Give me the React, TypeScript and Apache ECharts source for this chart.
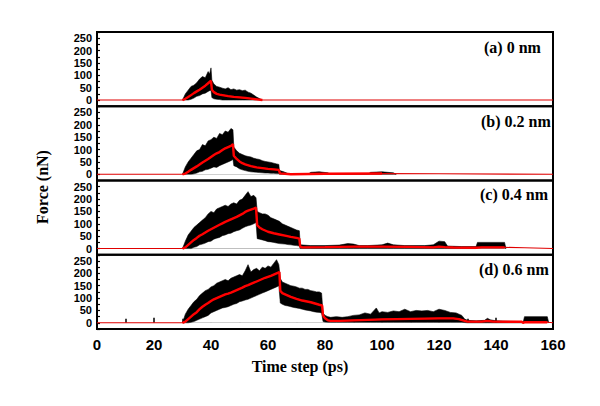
import { useEffect, useRef } from 'react';
import * as echarts from 'echarts';

// ---------- data ----------
const PANEL_LABELS = ['(a) 0 nm', '(b) 0.2 nm', '(c) 0.4 nm', '(d) 0.6 nm'];
const Y_LABELS = [0, 50, 100, 150, 200, 250];
const X_LABELS = [0, 20, 40, 60, 80, 100, 120, 140, 160];

// (a) 0 nm : black noise envelope
const T_A = [30, 31, 32, 33, 34, 35, 36, 37, 38, 39, 39.5, 40, 40.3, 41, 42, 43, 44, 45, 46, 47, 48, 49, 50, 51, 52, 53, 54, 55, 56, 57, 58];
const UP_A = [0, 25, 40, 55, 60, 70, 85, 95, 90, 115, 105, 130, 80, 65, 55, 52, 48, 45, 50, 42, 45, 40, 42, 38, 40, 32, 28, 20, 12, 6, 0];
const LO_A = [0, 0, 0, 3, 8, 15, 18, 25, 28, 35, 38, 40, 10, 5, 3, 2, 0, 0, 0, 0, 0, 0, 0, 0, 0, 0, 0, 0, 0, 0, 0];
// (a) red averaged line
const RT_A = [0, 30, 31, 32, 33, 34, 35, 36, 37, 38, 39, 40, 40.3, 41, 42, 43, 44, 46, 48, 50, 52, 54, 56, 58, 160];
const RED_A = [0, 0, 5, 12, 20, 28, 35, 42, 50, 58, 68, 78, 42, 32, 25, 22, 20, 16, 13, 11, 9, 6, 3, 0, 0];

// (b) 0.2 nm
const T_B = [30, 31, 32, 33, 34, 35, 36, 37, 38, 39, 40, 41, 42, 43, 44, 45, 46, 47, 47.7, 48, 49, 50, 51, 52, 53, 54, 55, 56, 57, 58, 59, 60, 61, 62, 63, 63.8, 64, 65, 66, 67, 68, 74, 75, 78, 81, 82, 95, 96, 100, 104, 105];
const UP_B = [0, 30, 50, 65, 80, 95, 100, 120, 115, 135, 140, 150, 145, 165, 160, 175, 170, 185, 180, 110, 95, 85, 80, 75, 72, 70, 65, 62, 60, 55, 52, 50, 48, 45, 42, 40, 15, 12, 8, 3, 0, 0, 8, 10, 6, 0, 0, 8, 10, 6, 0];
const LO_B = [0, 0, 0, 0, 2, 5, 10, 12, 18, 20, 25, 30, 28, 35, 40, 45, 50, 55, 60, 35, 30, 22, 18, 15, 12, 10, 9, 8, 7, 6, 5, 5, 4, 4, 3, 3, 0, 0, 0, 0, 0, 0, 0, 0, 0, 0, 0, 0, 0, 0, 0];
const RT_B = [0, 30, 31, 32, 33, 34, 35, 36, 37, 38, 39, 40, 41, 42, 43, 44, 45, 46, 47, 47.7, 48, 49, 50, 51, 52, 54, 56, 58, 60, 62, 63.8, 64.2, 66, 68, 80, 100, 120, 160];
const RED_B = [0, 0, 3, 10, 18, 25, 32, 40, 48, 55, 62, 70, 78, 85, 90, 98, 105, 110, 115, 122, 75, 62, 52, 45, 40, 33, 28, 25, 22, 20, 18, 4, 2, 0, 2, 3, 2, 0];

// (c) 0.4 nm
const T_C = [30, 31, 32, 33, 34, 35, 36, 37, 38, 39, 40, 41, 42, 43, 44, 45, 46, 47, 48, 49, 50, 51, 52, 53, 54, 55, 55.8, 56.2, 57, 58, 59, 60, 61, 62, 63, 64, 65, 66, 67, 68, 69, 70, 71, 71.3, 75, 80, 85, 88, 90, 92, 95, 100, 102, 104, 108, 115, 118, 120, 122, 123, 128, 133, 133.5, 143, 143.5];
const UP_C = [0, 30, 55, 70, 85, 95, 105, 115, 125, 140, 150, 145, 160, 165, 170, 175, 170, 180, 185, 180, 195, 200, 215, 230, 210, 215, 205, 150, 145, 140, 140, 135, 125, 120, 115, 110, 100, 95, 90, 85, 80, 75, 72, 15, 12, 12, 14, 20, 18, 12, 12, 15, 22, 15, 12, 12, 15, 30, 28, 10, 8, 8, 25, 25, 0];
const LO_C = [0, 0, 0, 0, 5, 8, 15, 18, 22, 28, 30, 38, 42, 45, 52, 55, 60, 62, 68, 72, 75, 82, 88, 92, 95, 100, 105, 40, 38, 35, 32, 28, 27, 25, 22, 20, 19, 18, 16, 15, 13, 12, 10, 0, 0, 0, 0, 0, 0, 0, 0, 0, 0, 0, 0, 0, 0, 0, 0, 0, 0, 0, 2, 2, 0];
const RT_C = [0, 30, 31, 32, 33, 34, 35, 36, 37, 38, 39, 40, 41, 42, 43, 44, 45, 46, 47, 48, 49, 50, 51, 52, 53, 54, 55, 55.8, 56.2, 57, 58, 60, 62, 64, 66, 68, 70, 71, 71.3, 72, 80, 90, 100, 110, 118, 120, 122, 125, 133, 135, 143, 150, 160];
const RED_C = [0, 0, 5, 15, 25, 35, 43, 52, 58, 65, 72, 78, 84, 90, 96, 102, 108, 113, 118, 123, 128, 134, 140, 148, 153, 157, 161, 165, 95, 85, 78, 68, 62, 57, 52, 47, 43, 40, 8, 5, 6, 8, 8, 7, 5, 8, 6, 4, 3, 5, 5, 3, 0];

// (d) 0.6 nm
const T_D = [30, 31, 32, 33, 34, 35, 36, 37, 38, 39, 40, 41, 42, 43, 44, 45, 46, 47, 48, 49, 50, 51, 52, 53, 54, 55, 56, 57, 58, 59, 60, 61, 62, 63, 63.8, 64.3, 65, 66, 67, 68, 69, 70, 71, 72, 73, 74, 75, 76, 77, 78, 78.8, 79.3, 80, 81, 82, 84, 86, 88, 90, 92, 94, 96, 98, 99, 100, 102, 104, 106, 108, 110, 112, 114, 116, 118, 120, 122, 124, 126, 128, 129, 130, 133, 136, 137, 138, 140, 145, 149, 149.5, 150, 158, 158.5];
const UP_D = [0, 35, 55, 70, 85, 95, 110, 120, 130, 135,
  145, 150, 160, 165, 170, 175, 170, 180, 185, 190,
  195, 190, 210, 235, 205, 215, 220, 210, 225, 220,
  230, 225, 240, 255, 235, 180,
  165, 160, 155, 150, 148, 145, 140, 140, 135, 135, 130, 128, 125, 125,
  120, 40, 30, 25, 22,
  25, 22, 25, 30, 32, 40, 35, 60, 40,
  45, 42, 48, 45, 55, 45, 50, 48, 50, 45, 55, 50, 42, 40, 30,
  15, 10, 8, 10, 18, 12, 8, 6, 5, 0, 25, 25, 0];
const LO_D = [0, 0, 0, 2, 5, 10, 15, 20, 25, 30,
  40, 45, 50, 55, 60, 62, 65, 70, 75, 78,
  85, 88, 92, 95, 100, 105, 110, 115, 120, 125,
  130, 135, 140, 145, 150, 80,
  75, 70, 68, 65, 62, 60, 58, 55, 52, 50, 48, 45, 43, 42,
  40, 5, 3, 2, 2,
  2, 2, 2, 2, 2, 2, 2, 2, 2,
  2, 2, 2, 2, 2, 2, 2, 2, 2, 2, 2, 2, 2, 2, 2,
  1, 0, 0, 0, 0, 0, 0, 0, 0, 0, 5, 5, 0];
const RT_D = [0, 30, 31, 32, 33, 34, 35, 36, 37, 38, 39, 40, 41, 42, 43, 44, 45, 46, 47, 48, 49, 50, 51, 52, 53, 54, 55, 56, 57, 58, 59, 60, 61, 62, 63, 64, 64.3, 65, 66, 68, 70, 72, 75, 78, 79, 79.3, 80, 81, 82, 85, 90, 95, 100, 105, 110, 115, 120, 125, 127, 129, 130, 135, 137, 139, 145, 149, 149.5, 150, 158, 160];
const RED_D = [0, 0, 5, 15, 25, 35, 43, 55, 65, 73, 80, 88, 95, 100, 105, 110, 115, 118, 122, 127, 132, 137, 142, 148, 152, 157, 162, 167, 172, 177, 182, 186, 190, 195, 200, 205, 130, 120, 115, 105, 97, 90, 83, 73, 70, 30, 18, 10, 8, 8, 10, 12, 14, 15, 16, 17, 18, 18, 15, 8, 5, 5, 8, 5, 4, 4, 0, 2, 2, 0];

const PANELS = [
  { t: T_A, up: UP_A, lo: LO_A, rt: RT_A, red: RED_A },
  { t: T_B, up: UP_B, lo: LO_B, rt: RT_B, red: RED_B },
  { t: T_C, up: UP_C, lo: LO_C, rt: RT_C, red: RED_C },
  { t: T_D, up: UP_D, lo: LO_D, rt: RT_D, red: RED_D },
];

const SANS = '"Liberation Sans", Arial, sans-serif';
const SERIF = '"Liberation Serif", "Times New Roman", serif';

export default function App() {
  const ref = useRef<HTMLDivElement>(null);

  useEffect(() => {
    const chart = echarts.init(ref.current!, null, { renderer: 'svg' });
    const top0 = 32;
    const h = 74.25;
    const grids: any[] = [];
    const xAxes: any[] = [];
    const yAxes: any[] = [];
    const series: any[] = [];
    const labelY = [47, 121, 194, 269];
    const labelX = [484, 481, 480, 479];
    const graphics: any[] = [];

    PANELS.forEach((p, i) => {
      const last = i === PANELS.length - 1;
      grids.push({
        left: 97, width: 456, top: top0 + i * h, height: h,
        show: true, borderColor: '#000', borderWidth: 2, backgroundColor: 'transparent',
      });
      xAxes.push({
        type: 'value', gridIndex: i, min: 0, max: 160, interval: 20,
        axisLine: { show: false },
        splitLine: { show: false },
        axisTick: { show: last, inside: true, length: 5, lineStyle: { color: '#000', width: 1.5 } },
        minorTick: { show: last, splitNumber: 2, length: 4, lineStyle: { color: '#000', width: 1.5 } },
        axisLabel: {
          show: last, margin: 8, color: '#000', fontFamily: SANS, fontWeight: 'bold', fontSize: 15,
          customValues: X_LABELS,
        },
      });
      yAxes.push({
        type: 'value', gridIndex: i, min: -25, max: 275, interval: 25,
        axisLine: { show: false },
        splitLine: { show: false },
        axisTick: { show: true, inside: true, length: 3, lineStyle: { color: '#000', width: 1.2 } },
        axisLabel: {
          show: true, margin: 5, color: '#000', fontFamily: SANS, fontWeight: 'bold', fontSize: 11,
          lineHeight: 11, showMinLabel: true, showMaxLabel: true, hideOverlap: false,
          customValues: Y_LABELS,
        },
      });
      // black noise band: upper envelope filled black, lower envelope filled white on top
      series.push({
        type: 'line', xAxisIndex: i, yAxisIndex: i, symbol: 'none', silent: true,
        lineStyle: { color: '#000', width: 0.6 },
        areaStyle: { color: '#000', opacity: 1, origin: 0 },
        data: p.t.map((t, k) => [t, p.up[k]]),
      });
      series.push({
        type: 'line', xAxisIndex: i, yAxisIndex: i, symbol: 'none', silent: true,
        lineStyle: { color: '#000', width: 0.5 },
        areaStyle: { color: '#fff', opacity: 1, origin: 0 },
        data: p.t.map((t, k) => [t, p.lo[k]]),
      });
      // red average: thin over the whole run, thick where the force is active
      const tStart = p.t[0];
      const tEnd = p.t[p.t.length - 1];
      series.push({
        type: 'line', xAxisIndex: i, yAxisIndex: i, symbol: 'none', silent: true,
        lineStyle: { color: '#e00000', width: 1.1 },
        data: p.rt.map((t, k) => [t, p.red[k]]),
      });
      series.push({
        type: 'line', xAxisIndex: i, yAxisIndex: i, symbol: 'none', silent: true,
        lineStyle: { color: '#ff0000', width: 2.4 },
        data: p.rt.map((t, k) => [t, p.red[k]]).filter(([t]) => t >= tStart && t <= tEnd),
      });
      graphics.push({
        type: 'text', x: labelX[i], y: labelY[i], silent: true,
        style: {
          text: PANEL_LABELS[i], font: `bold 16px ${SERIF}`, fill: '#000',
          align: 'left', verticalAlign: 'middle', textAlign: 'left', textVerticalAlign: 'middle',
        },
      });
    });

    graphics.push({
      type: 'text', x: 42, y: 187, rotation: Math.PI / 2, silent: true,
      style: {
        text: 'Force (nN)', font: `bold 16px ${SERIF}`, fill: '#000',
        align: 'center', verticalAlign: 'middle', textAlign: 'center', textVerticalAlign: 'middle',
      },
    });
    graphics.push({
      type: 'text', x: 300, y: 366, silent: true,
      style: {
        text: 'Time step (ps)', font: `bold 16px ${SERIF}`, fill: '#000',
        align: 'center', verticalAlign: 'middle', textAlign: 'center', textVerticalAlign: 'middle',
      },
    });

    chart.setOption({
      animation: false,
      backgroundColor: '#fff',
      grid: grids,
      xAxis: xAxes,
      yAxis: yAxes,
      series,
      graphic: graphics,
    });
    return () => chart.dispose();
  }, []);

  return <div ref={ref} style={{ position: 'absolute', left: 0, top: 0, width: 600, height: 406 }} />;
}
